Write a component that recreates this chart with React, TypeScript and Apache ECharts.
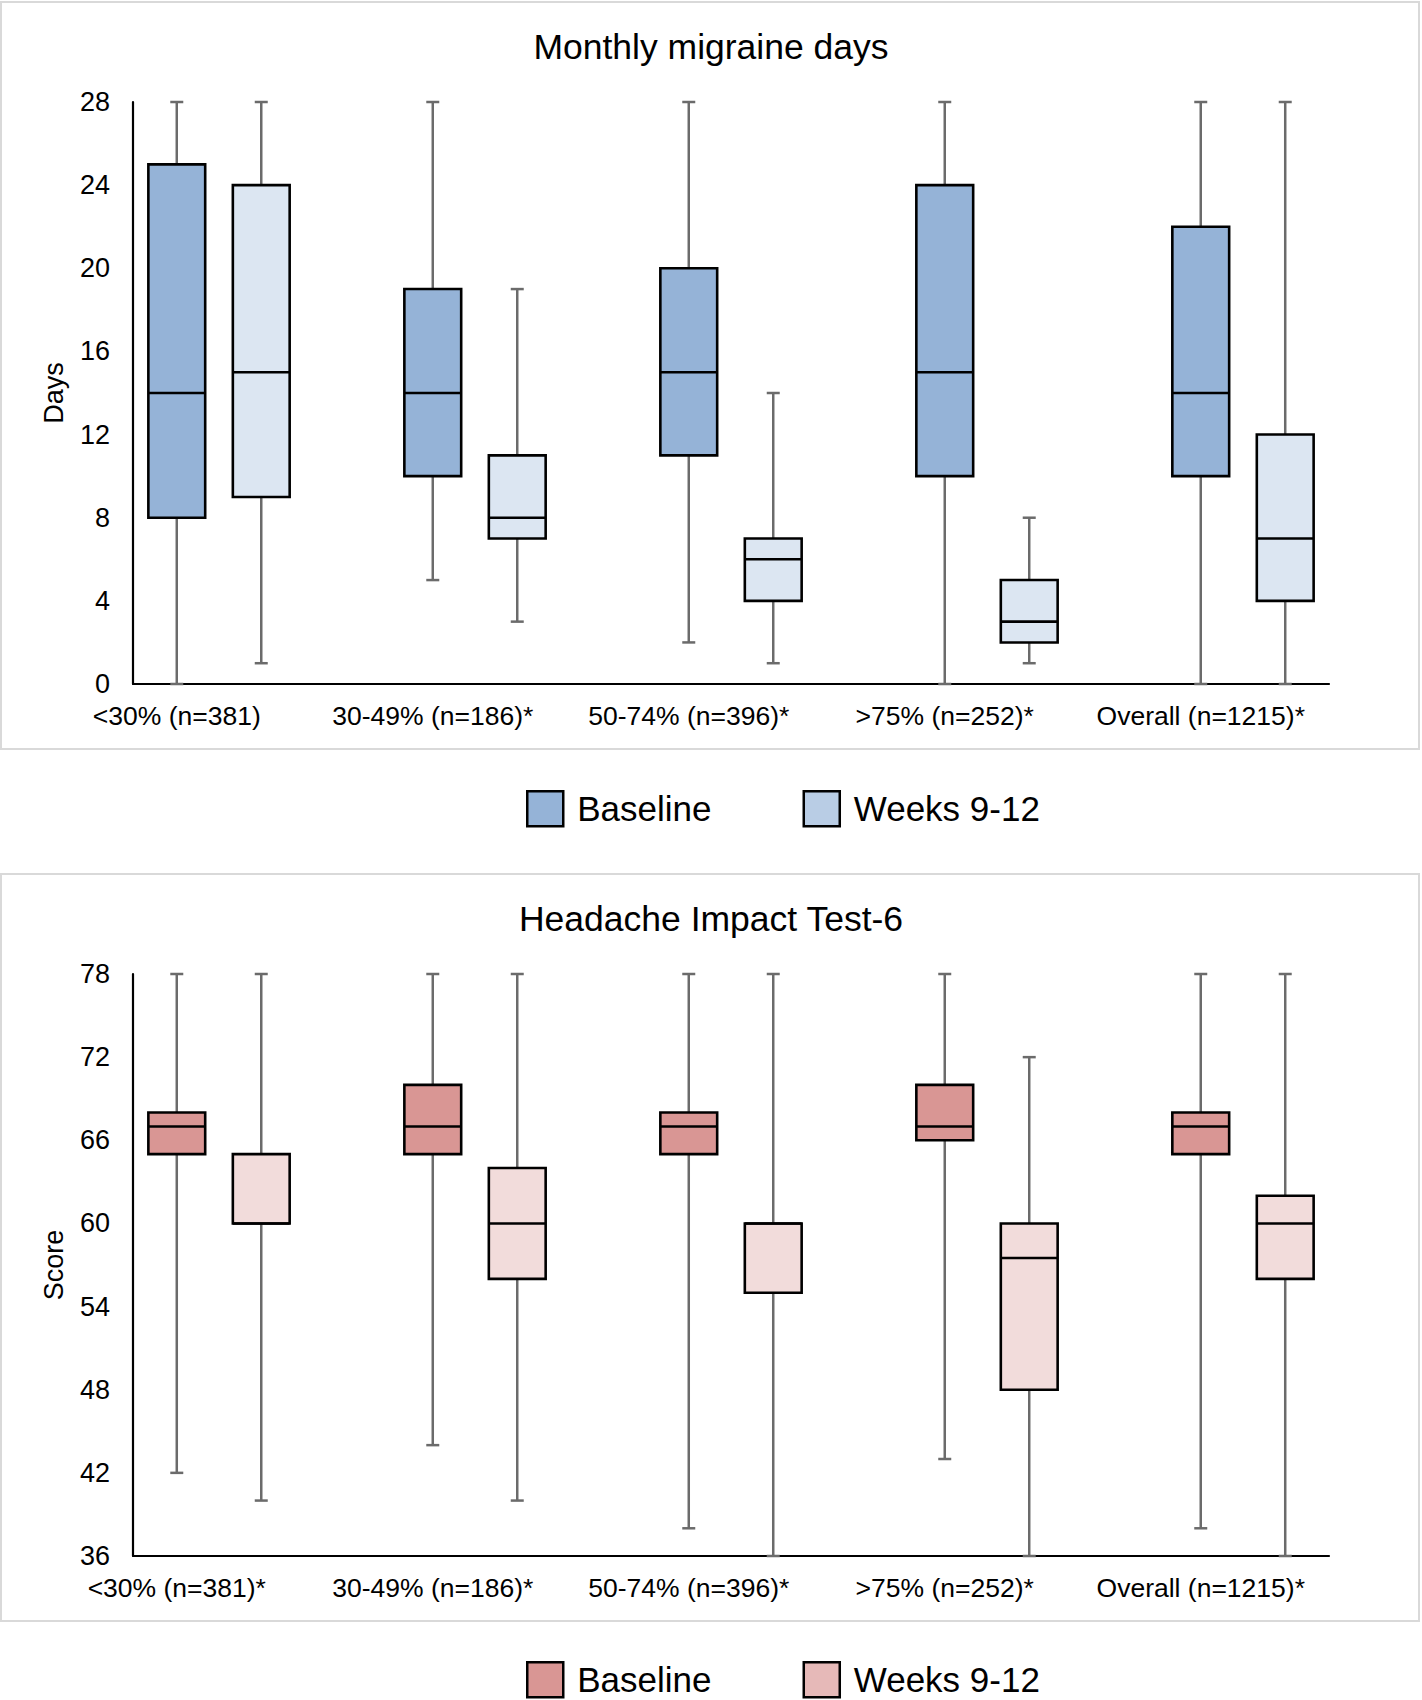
import React, { useEffect, useRef } from "react";
import * as echarts from "echarts";

// ---------- DATA ----------
const mmdCategories = ["<30% (n=381)", "30-49% (n=186)*", "50-74% (n=396)*", ">75% (n=252)*", "Overall (n=1215)*"];
const hitCategories = ["<30% (n=381)*", "30-49% (n=186)*", "50-74% (n=396)*", ">75% (n=252)*", "Overall (n=1215)*"];
const seriesNames = ["Baseline", "Weeks 9-12"];

// each entry: [min, Q1, median, Q3, max]
const mmdBaseline = [
  [0, 8, 14, 25, 28],
  [5, 10, 14, 19, 28],
  [2, 11, 15, 20, 28],
  [0, 10, 15, 24, 28],
  [0, 10, 14, 22, 28],
];
const mmdWeeks = [
  [1, 9, 15, 24, 28],
  [3, 7, 8, 11, 19],
  [1, 4, 6, 7, 14],
  [1, 2, 3, 5, 8],
  [0, 4, 7, 12, 28],
];
const hitBaseline = [
  [42, 65, 67, 68, 78],
  [44, 65, 67, 70, 78],
  [38, 65, 67, 68, 78],
  [43, 66, 67, 70, 78],
  [38, 65, 67, 68, 78],
];
const hitWeeks = [
  [40, 60, 60, 65, 78],
  [40, 56, 60, 64, 78],
  [36, 55, 60, 60, 78],
  [36, 48, 57.5, 60, 72],
  [36, 56, 60, 62, 78],
];

const mmdAxis = { min: 0, max: 28, interval: 4 };
const hitAxis = { min: 36, max: 78, interval: 6 };

// ---------- STYLE ----------
const FONT = "'Liberation Sans', Arial, Helvetica, sans-serif";
const OFFSET = 0.165; // half distance between paired boxes (category units)
const BOX_W = 0.222; // box width (category units)
const X_PAD = 0.336;
const WHISKER = "#6b6b6b";

function makeRender(offset: number) {
  return (params: any, api: any) => {
    const x = api.value(0) + offset;
    const lo = api.value(1);
    const q1 = api.value(2);
    const med = api.value(3);
    const q3 = api.value(4);
    const hi = api.value(5);
    const pLo = api.coord([x, lo]);
    const pQ1 = api.coord([x, q1]);
    const pMed = api.coord([x, med]);
    const pQ3 = api.coord([x, q3]);
    const pHi = api.coord([x, hi]);
    const bw = api.size([BOX_W, 0], [x, 0])[0];
    const cx = pLo[0];
    const cap = 13;
    const color = api.visual("color");
    const wStyle = { stroke: WHISKER, lineWidth: 2.5 };
    return {
      type: "group",
      children: [
        { type: "line", shape: { x1: cx, y1: pHi[1], x2: cx, y2: pQ3[1] }, style: wStyle },
        { type: "line", shape: { x1: cx, y1: pQ1[1], x2: cx, y2: pLo[1] }, style: wStyle },
        { type: "line", shape: { x1: cx - cap / 2, y1: pHi[1], x2: cx + cap / 2, y2: pHi[1] }, style: wStyle },
        { type: "line", shape: { x1: cx - cap / 2, y1: pLo[1], x2: cx + cap / 2, y2: pLo[1] }, style: wStyle },
        {
          type: "rect",
          shape: { x: cx - bw / 2, y: pQ3[1], width: bw, height: pQ1[1] - pQ3[1] },
          style: { fill: color, stroke: "#000", lineWidth: 2.6 },
        },
        {
          type: "line",
          shape: { x1: cx - bw / 2, y1: pMed[1], x2: cx + bw / 2, y2: pMed[1] },
          style: { stroke: "#000", lineWidth: 2.6 },
        },
      ],
    };
  };
}

interface PanelCfg {
  title: string;
  yName: string;
  cats: string[];
  baseline: number[][];
  weeks: number[][];
  axis: { min: number; max: number; interval: number };
  baseColor: string;
  weeksColor: string;
  weeksLegendColor: string;
  borderTop: number;
  titleTop: number;
  gridTop: number;
  legendTop: number;
}

function buildOption(c: PanelCfg) {
  const labelPos = c.cats.map((_, i) => i - OFFSET);
  const toData = (arr: number[][]) => arr.map((v, i) => [i, ...v]);
  return {
    animation: false,
    backgroundColor: "#fff",
    textStyle: { fontFamily: FONT },
    title: {
      text: c.title,
      left: "center",
      top: c.titleTop,
      padding: 0,
      textStyle: { fontSize: 35.5, fontWeight: "normal", color: "#000", fontFamily: FONT },
    },
    graphic: [
      {
        type: "rect",
        shape: { x: 1, y: c.borderTop, width: 1418, height: 747 },
        style: { fill: "none", stroke: "#d9d9d9", lineWidth: 2 },
        z: -10,
        silent: true,
      },
    ],
    legend: {
      left: 526,
      top: c.legendTop,
      itemWidth: 36,
      itemHeight: 35,
      itemGap: 91,
      icon: "rect",
      selectedMode: false,
      padding: 0,
      itemStyle: { borderColor: "#000", borderWidth: 2.5 },
      textStyle: { fontSize: 35, color: "#000", fontFamily: FONT, padding: [11, 0, 0, 9] },
      data: [
        { name: seriesNames[0], itemStyle: { color: c.baseColor } },
        { name: seriesNames[1], itemStyle: { color: c.weeksLegendColor } },
      ],
    },
    grid: {
      left: 133,
      top: c.gridTop,
      width: 1196,
      height: 582,
      containLabel: false,
      outerBoundsMode: "none",
    },
    xAxis: {
      type: "value",
      min: -X_PAD,
      max: c.cats.length - 1 + X_PAD,
      axisLine: { show: true, onZero: false, lineStyle: { color: "#000", width: 2.2 } },
      axisTick: { show: false },
      splitLine: { show: false },
      axisLabel: {
        show: true,
        customValues: labelPos,
        showMinLabel: true,
        showMaxLabel: true,
        hideOverlap: false,
        margin: 18,
        fontSize: 26.5,
        color: "#000",
        fontFamily: FONT,
        formatter: (v: number) => {
          const idx = Math.round(v + OFFSET);
          return c.cats[idx] ?? "";
        },
      },
    },
    yAxis: {
      type: "value",
      min: c.axis.min,
      max: c.axis.max,
      interval: c.axis.interval,
      name: c.yName,
      nameLocation: "middle",
      nameGap: 66,
      nameTextStyle: { fontSize: 27, color: "#000", fontFamily: FONT },
      axisLine: { show: true, onZero: false, lineStyle: { color: "#000", width: 2.2 } },
      axisTick: { show: false },
      splitLine: { show: false },
      axisLabel: { fontSize: 27, color: "#000", margin: 23, fontFamily: FONT },
    },
    series: [
      {
        type: "custom",
        name: seriesNames[0],
        clip: false,
        itemStyle: { color: c.baseColor },
        encode: { x: 0, y: [1, 2, 3, 4, 5] },
        renderItem: makeRender(-OFFSET),
        data: toData(c.baseline),
      },
      {
        type: "custom",
        name: seriesNames[1],
        clip: false,
        itemStyle: { color: c.weeksColor },
        encode: { x: 0, y: [1, 2, 3, 4, 5] },
        renderItem: makeRender(OFFSET),
        data: toData(c.weeks),
      },
    ],
  };
}

function Panel({ cfg, height }: { cfg: PanelCfg; height: number }) {
  const ref = useRef<HTMLDivElement>(null);
  useEffect(() => {
    if (!ref.current) return;
    const chart = echarts.init(ref.current, undefined, { renderer: "svg" });
    chart.setOption(buildOption(cfg) as any);
    return () => chart.dispose();
  }, [cfg]);
  return <div ref={ref} style={{ width: 1422, height }} />;
}

const topCfg: PanelCfg = {
  title: "Monthly migraine days",
  yName: "Days",
  cats: mmdCategories,
  baseline: mmdBaseline,
  weeks: mmdWeeks,
  axis: mmdAxis,
  baseColor: "#95b3d7",
  weeksColor: "#dce6f2",
  weeksLegendColor: "#b9cde5",
  borderTop: 2,
  titleTop: 29,
  gridTop: 102,
  legendTop: 790,
};

const bottomCfg: PanelCfg = {
  title: "Headache Impact Test-6",
  yName: "Score",
  cats: hitCategories,
  baseline: hitBaseline,
  weeks: hitWeeks,
  axis: hitAxis,
  baseColor: "#d99694",
  weeksColor: "#f2dcdb",
  weeksLegendColor: "#e6b9b8",
  borderTop: 14,
  titleTop: 41,
  gridTop: 114,
  legendTop: 801,
};

export default function App() {
  useEffect(() => {
    document.body.style.margin = "0";
  }, []);
  return (
    <div style={{ width: 1422, height: 1700, overflow: "hidden", background: "#fff" }}>
      <Panel cfg={topCfg} height={860} />
      <Panel cfg={bottomCfg} height={840} />
    </div>
  );
}
